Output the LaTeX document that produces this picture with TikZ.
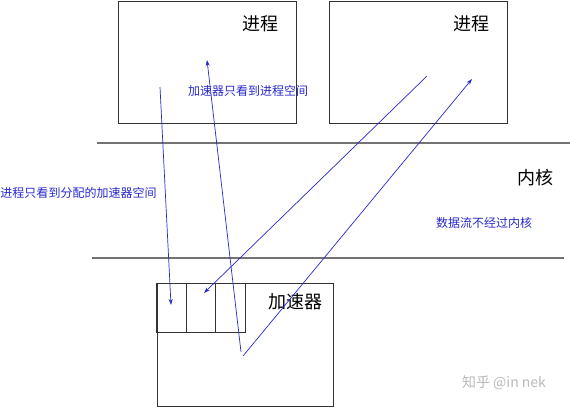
\documentclass[tikz,border=0pt]{standalone}
\usepackage{fontspec}
\newfontfamily\cjk{Noto Sans CJK SC}
\usepackage{xcolor}
\usetikzlibrary{arrows.meta}
\definecolor{flowblue}{RGB}{40,40,205}
\definecolor{wmgray}{RGB}{185,185,185}
\tikzstyle{box}=[draw=black!80, line width=0.9pt, inner sep=0pt]
\tikzstyle{cell}=[draw=black!80, line width=0.8pt, inner sep=0pt, minimum width=29.5pt, minimum height=49pt]
\tikzstyle{layer}=[draw=black!55, line width=1.4pt]
\tikzstyle{flow}=[draw=flowblue, line width=0.7pt, -{Stealth[length=6pt,width=4pt]}]
\tikzstyle{big}=[font=\cjk\fontsize{18}{18}\selectfont]
\tikzstyle{note}=[font=\cjk\fontsize{12}{12}\selectfont, text=flowblue, inner sep=0pt]

\begin{document}
\begin{tikzpicture}[x=1pt,y=-1pt]
\useasboundingbox (0,0) rectangle (570,408);
% process boxes
\node[box, minimum width=178pt, minimum height=122pt] (proc1) at (207,62) {};
\node[box, minimum width=178pt, minimum height=122pt] (proc2) at (418,62) {};
\node[big] (lp1) at (260,24) {进程};
\node[big] (lp2) at (471,24) {进程};
% kernel
\coordinate (k1l) at (97,143);
\coordinate (k1r) at (570,143);
\coordinate (k2l) at (92,258);
\coordinate (k2r) at (564,258);
\draw[layer] (k1l) -- (k1r);
\draw[layer] (k2l) -- (k2r);
\node[big] (lk) at (535,178) {内核};
% accelerator
\node[box, minimum width=176pt, minimum height=123pt] (acc) at (245,344.5) {};
\node[cell] (c1) at (171.5,307.5) {};
\node[cell] (c2) at (201,307.5) {};
\node[cell] (c3) at (230.5,307.5) {};
\node[big] (la) at (295,302) {加速器};
% flows
\coordinate (a1) at (160,87);
\coordinate (b1) at (171,305);
\coordinate (a2) at (241,352);
\coordinate (b2) at (207,60);
\coordinate (a3) at (427,76);
\coordinate (b3) at (204,293);
\coordinate (a4) at (243,356);
\coordinate (b4) at (472,79);
\draw[flow] (a1) -- (b1);
\draw[flow] (a2) -- (b2);
\draw[flow] (a3) -- (b3);
\draw[flow] (a4) -- (b4);
\node[note] (n1) at (248,91) {加速器只看到进程空间};
\node[note] (n2) at (78.5,193) {进程只看到分配的加速器空间};
\node[note] (n3) at (484,223) {数据流不经过内核};
\node[font=\cjk\fontsize{14}{14}\selectfont, text=wmgray] (wm) at (504,383) {知乎 @in nek};
\end{tikzpicture}
\end{document}
